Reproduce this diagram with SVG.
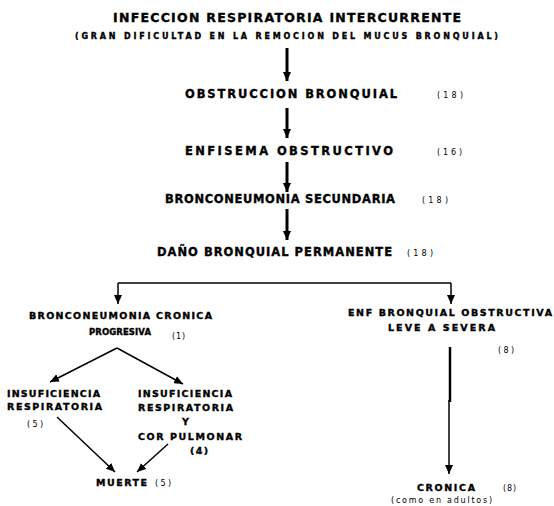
<svg xmlns="http://www.w3.org/2000/svg" width="554" height="506" viewBox="0 0 554 506">
<defs>
<marker id="ah" markerUnits="userSpaceOnUse" markerWidth="9" markerHeight="8" refX="9" refY="4" orient="auto">
<path d="M0,0 L9,4 L0,8 z" fill="#000"/>
</marker>
<style>
text{font-family:"DejaVu Sans","Liberation Sans",Arial,sans-serif;font-weight:bold;fill:#000}
.t,.m,.n,.s,.p{stroke:#000;stroke-width:0.35}
.t{font-size:12.5px}
.s{font-size:8px}
.m{font-size:11.5px}
.n{font-size:9.5px}
.p{font-size:8.5px}
.r{font-size:8px;font-weight:normal}
.thick{stroke:#000;stroke-width:3;fill:none}
.thin{stroke:#000;stroke-width:1.5;fill:none}
</style>
</defs>
<rect width="554" height="506" fill="#fff"/>
<g id="connectors">
<line class="thick" x1="287" y1="48" x2="287" y2="81" marker-end="url(#ah)"/>
<line class="thick" x1="287" y1="108" x2="287" y2="138" marker-end="url(#ah)"/>
<line class="thick" x1="287" y1="162" x2="287" y2="192" marker-end="url(#ah)"/>
<line class="thick" x1="287" y1="209" x2="287" y2="240" marker-end="url(#ah)"/>
<line class="thin" x1="118" y1="283" x2="451" y2="283"/>
<line class="thin" x1="118" y1="283" x2="118" y2="304" marker-end="url(#ah)"/>
<line class="thin" x1="451" y1="283" x2="451" y2="304" marker-end="url(#ah)"/>
<line class="thin" x1="117" y1="348" x2="50" y2="382" marker-end="url(#ah)"/>
<line class="thin" x1="117" y1="348" x2="183" y2="384" marker-end="url(#ah)"/>
<line class="thin" x1="57" y1="417" x2="115" y2="472" marker-end="url(#ah)"/>
<line class="thin" x1="168" y1="444" x2="137" y2="472" marker-end="url(#ah)"/>
<line stroke="#000" stroke-width="2.5" x1="450" y1="347" x2="450" y2="402"/>
<line class="thin" x1="449" y1="400" x2="449" y2="474" marker-end="url(#ah)"/>
</g>
<g id="n-infeccion">
<text class="t" x="113" y="22" textLength="348" lengthAdjust="spacing">INFECCION RESPIRATORIA INTERCURRENTE</text>
<text class="s" x="75" y="39" textLength="423" lengthAdjust="spacing">(GRAN DIFICULTAD EN LA REMOCION DEL MUCUS BRONQUIAL)</text>
</g>
<g id="n-obstruccion">
<text class="m" x="185" y="98" textLength="212" lengthAdjust="spacing">OBSTRUCCION BRONQUIAL</text>
<text class="r" x="437" y="98" textLength="26" lengthAdjust="spacing">(18)</text>
</g>
<g id="n-enfisema">
<text class="m" x="185" y="155" textLength="208" lengthAdjust="spacing">ENFISEMA OBSTRUCTIVO</text>
<text class="r" x="437" y="155" textLength="25" lengthAdjust="spacing">(16)</text>
</g>
<g id="n-bronconeumonia-sec">
<text class="m" x="165" y="203" textLength="230" lengthAdjust="spacing">BRONCONEUMONIA SECUNDARIA</text>
<text class="r" x="422" y="203" textLength="26" lengthAdjust="spacing">(18)</text>
</g>
<g id="n-dano">
<text class="m" x="157" y="256" textLength="235" lengthAdjust="spacing">DAÑO BRONQUIAL PERMANENTE</text>
<text class="r" x="407" y="256" textLength="26" lengthAdjust="spacing">(18)</text>
</g>
<g id="n-bronconeumonia-cron">
<text class="n" x="29" y="319" textLength="183" lengthAdjust="spacing">BRONCONEUMONIA CRONICA</text>
<text class="p" x="89" y="335" textLength="62" lengthAdjust="spacing">PROGRESIVA</text>
<text class="r" x="172" y="339" textLength="13" lengthAdjust="spacing">(1)</text>
</g>
<g id="n-enf-bronquial">
<text class="n" x="348" y="316" textLength="204" lengthAdjust="spacing">ENF BRONQUIAL OBSTRUCTIVA</text>
<text class="n" x="388" y="331" textLength="107" lengthAdjust="spacing">LEVE A SEVERA</text>
<text class="r" x="498" y="353" textLength="16" lengthAdjust="spacing">(8)</text>
</g>
<g id="n-insuf-resp">
<text class="n" x="7" y="397" textLength="93" lengthAdjust="spacing">INSUFICIENCIA</text>
<text class="n" x="7" y="410" textLength="95" lengthAdjust="spacing">RESPIRATORIA</text>
<text class="r" x="27" y="427" textLength="16" lengthAdjust="spacing">(5)</text>
</g>
<g id="n-insuf-cor">
<text class="n" x="138" y="397" textLength="94" lengthAdjust="spacing">INSUFICIENCIA</text>
<text class="n" x="138" y="411" textLength="95" lengthAdjust="spacing">RESPIRATORIA</text>
<text class="n" x="182" y="425">Y</text>
<text class="n" x="138" y="440" textLength="104" lengthAdjust="spacing">COR PULMONAR</text>
<text class="n" x="190" y="454" textLength="18" lengthAdjust="spacing">(4)</text>
</g>
<g id="n-muerte">
<text class="n" x="96" y="486" textLength="51" lengthAdjust="spacing">MUERTE</text>
<text class="r" x="155" y="486" textLength="16" lengthAdjust="spacing">(5)</text>
</g>
<g id="n-cronica">
<text class="n" x="417" y="491" textLength="58" lengthAdjust="spacing">CRONICA</text>
<text class="r" x="503" y="491" textLength="13" lengthAdjust="spacing">(8)</text>
<text class="r" x="391" y="503" textLength="101" lengthAdjust="spacing">(como en adultos)</text>
</g>
</svg>
